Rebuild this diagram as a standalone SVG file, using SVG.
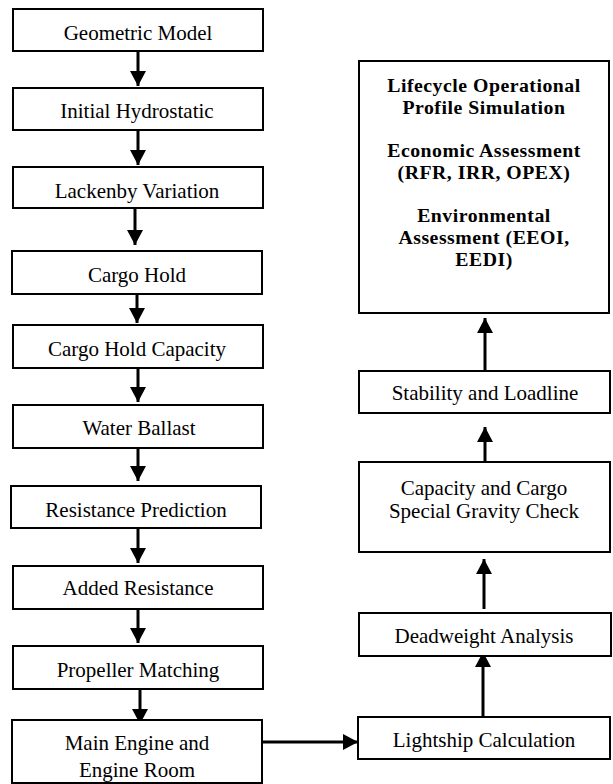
<svg xmlns="http://www.w3.org/2000/svg" width="613" height="784" viewBox="0 0 613 784">
<style>
.box{fill:#fff;stroke:#000;stroke-width:2}
.t{font-family:"Liberation Serif","Times New Roman",serif;font-size:21px;fill:#000;text-anchor:middle}
.b{font-family:"Liberation Serif","Times New Roman",serif;font-size:19.8px;font-weight:bold;letter-spacing:0.5px;fill:#000;text-anchor:middle}
.c{stroke:#000;stroke-width:3;fill:none}
</style>
<defs>
<marker id="ah" viewBox="0 0 15 16" refX="15" refY="8" markerWidth="15" markerHeight="16" markerUnits="userSpaceOnUse" orient="auto">
<path d="M0,0 L15,8 L0,16 Z" fill="#000"/>
</marker>
</defs>
<rect width="613" height="784" fill="#fff"/>
<g id="connectors">
<line class="c" x1="138" y1="51" x2="138" y2="86" marker-end="url(#ah)"/>
<line class="c" x1="138" y1="130" x2="138" y2="165" marker-end="url(#ah)"/>
<line class="c" x1="135" y1="209" x2="135" y2="245" marker-end="url(#ah)"/>
<line class="c" x1="137" y1="288" x2="137" y2="323" marker-end="url(#ah)"/>
<line class="c" x1="138" y1="368" x2="138" y2="402" marker-end="url(#ah)"/>
<line class="c" x1="138" y1="448" x2="138" y2="481" marker-end="url(#ah)"/>
<line class="c" x1="138" y1="528" x2="138" y2="563" marker-end="url(#ah)"/>
<line class="c" x1="138" y1="609" x2="138" y2="643" marker-end="url(#ah)"/>
<line class="c" x1="140" y1="690" x2="140" y2="724" marker-end="url(#ah)"/>
<line class="c" x1="263" y1="742" x2="358" y2="742" marker-end="url(#ah)"/>
<line class="c" x1="483" y1="722" x2="483" y2="652" marker-end="url(#ah)"/>
<line class="c" x1="484" y1="609" x2="484" y2="559" marker-end="url(#ah)"/>
<line class="c" x1="485" y1="463" x2="485" y2="427" marker-end="url(#ah)"/>
<line class="c" x1="485" y1="371" x2="485" y2="318" marker-end="url(#ah)"/>
</g>
<g id="geometric-model"><rect class="box" x="13" y="9" width="250" height="42"/><text class="t" x="138" y="40">Geometric Model</text></g>
<g id="initial-hydrostatic"><rect class="box" x="13" y="88" width="250" height="42"/><text class="t" x="137" y="118">Initial Hydrostatic</text></g>
<g id="lackenby-variation"><rect class="box" x="13" y="167" width="250" height="41"/><text class="t" x="137" y="198">Lackenby Variation</text></g>
<g id="cargo-hold"><rect class="box" x="12" y="251" width="250" height="43"/><text class="t" x="137" y="282">Cargo Hold</text></g>
<g id="cargo-hold-capacity"><rect class="box" x="13" y="325" width="250" height="43"/><text class="t" x="137" y="356">Cargo Hold Capacity</text></g>
<g id="water-ballast"><rect class="box" x="13" y="405" width="250" height="43"/><text class="t" x="139" y="435">Water Ballast</text></g>
<g id="resistance-prediction"><rect class="box" x="11" y="486" width="250" height="42"/><text class="t" x="136" y="517">Resistance Prediction</text></g>
<g id="added-resistance"><rect class="box" x="13" y="566" width="250" height="43"/><text class="t" x="138" y="595">Added Resistance</text></g>
<g id="propeller-matching"><rect class="box" x="13" y="646" width="250" height="43"/><text class="t" x="138" y="677">Propeller Matching</text></g>
<g id="main-engine"><rect class="box" x="12" y="720" width="250" height="63"/><text class="t" x="137" y="750">Main Engine and</text><text class="t" x="137" y="777">Engine Room</text></g>
<g id="lightship-calculation"><rect class="box" x="358" y="717" width="252" height="42"/><text class="t" x="484" y="747">Lightship Calculation</text></g>
<g id="deadweight-analysis"><rect class="box" x="359" y="613" width="252" height="43"/><text class="t" x="484" y="643">Deadweight Analysis</text></g>
<g id="capacity-check"><rect class="box" x="359" y="462" width="251" height="90"/><text class="t" x="484" y="495">Capacity and Cargo</text><text class="t" x="484" y="518">Special Gravity Check</text></g>
<g id="stability-loadline"><rect class="box" x="359" y="371" width="251" height="42"/><text class="t" x="485" y="400">Stability and Loadline</text></g>
<g id="lifecycle-assessment"><rect class="box" x="359" y="61" width="250" height="252"/>
<text class="b" x="484" y="92">Lifecycle Operational</text>
<text class="b" x="484" y="114">Profile Simulation</text>
<text class="b" x="484" y="157">Economic Assessment</text>
<text class="b" x="484" y="179">(RFR, IRR, OPEX)</text>
<text class="b" x="484" y="222">Environmental</text>
<text class="b" x="484" y="244">Assessment (EEOI,</text>
<text class="b" x="484" y="266">EEDI)</text>
</g>
</svg>
